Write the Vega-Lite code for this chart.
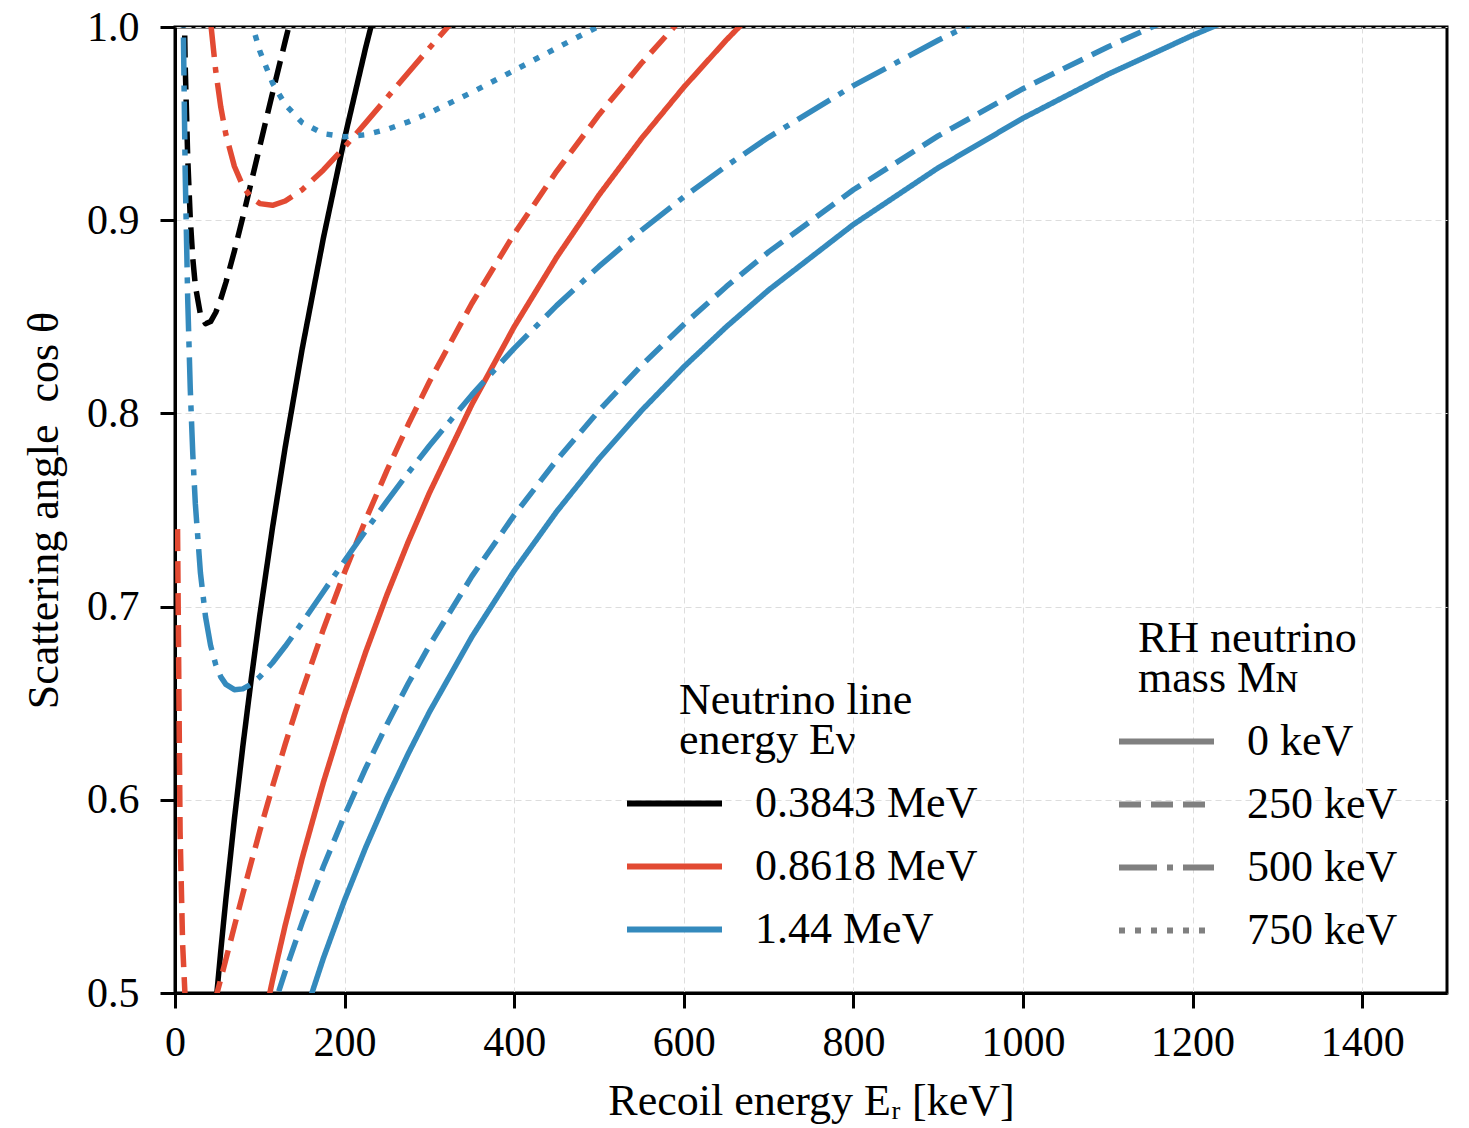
{
"$schema": "https://vega.github.io/schema/vega-lite/v6.json",
"width": 1272, "height": 966,
"autosize": {"type": "none"},
"padding": {"left": 175, "top": 27, "right": 22, "bottom": 135},
"background": "white",
"config": {
  "font": "Liberation Serif",
  "view": {"stroke": "black", "strokeWidth": 3},
  "axis": {"domainColor": "black", "domainWidth": 3, "tickColor": "black", "tickWidth": 3, "tickSize": 15,
    "labelFontSize": 42, "labelColor": "black", "titleFontSize": 44, "titleFontWeight": "normal", "titleColor": "black",
    "gridColor": "#dddddd", "gridDash": [6, 4], "gridWidth": 1, "labelFlush": false, "labelOverlap": false, "labelBound": false},
  "legend": {"titleFontSize": 44, "titleFontWeight": "normal", "titleColor": "black", "labelFontSize": 44, "labelColor": "black",
    "labelLimit": 500, "titleLimit": 600, "titleLineHeight": 40, "symbolType": "stroke", "symbolSize": 9025, "symbolStrokeWidth": 6,
    "clipHeight": 45, "rowPadding": 18, "titlePadding": 18, "labelOffset": 30, "titleAnchor": "start", "titleAlign": "left"}
},
"data": {"values": [
{"E":"0.3843 MeV","M":"0 keV","T":42,"c":0.46286},{"E":"0.3843 MeV","M":"0 keV","T":48,"c":0.49343},{"E":"0.3843 MeV","M":"0 keV","T":54,"c":0.5219},{"E":"0.3843 MeV","M":"0 keV","T":60,"c":0.5486},{"E":"0.3843 MeV","M":"0 keV","T":70,"c":0.58983},{"E":"0.3843 MeV","M":"0 keV","T":80,"c":0.62771},{"E":"0.3843 MeV","M":"0 keV","T":90,"c":0.66278},{"E":"0.3843 MeV","M":"0 keV","T":100,"c":0.69551},{"E":"0.3843 MeV","M":"0 keV","T":115,"c":0.74092},{"E":"0.3843 MeV","M":"0 keV","T":130,"c":0.78262},{"E":"0.3843 MeV","M":"0 keV","T":150,"c":0.83345},{"E":"0.3843 MeV","M":"0 keV","T":175,"c":0.89078},{"E":"0.3843 MeV","M":"0 keV","T":200,"c":0.9425},{"E":"0.3843 MeV","M":"0 keV","T":225,"c":0.98961},{"E":"0.3843 MeV","M":"0 keV","T":250,"c":1.03284},
{"E":"0.3843 MeV","M":"250 keV","T":9,"c":1.06183},{"E":"0.3843 MeV","M":"250 keV","T":12,"c":0.98099},{"E":"0.3843 MeV","M":"250 keV","T":15,"c":0.93219},{"E":"0.3843 MeV","M":"250 keV","T":18,"c":0.90083},{"E":"0.3843 MeV","M":"250 keV","T":21,"c":0.88003},{"E":"0.3843 MeV","M":"250 keV","T":24,"c":0.86613},{"E":"0.3843 MeV","M":"250 keV","T":30,"c":0.85115},{"E":"0.3843 MeV","M":"250 keV","T":36,"c":0.84641},{"E":"0.3843 MeV","M":"250 keV","T":42,"c":0.84753},{"E":"0.3843 MeV","M":"250 keV","T":48,"c":0.85224},{"E":"0.3843 MeV","M":"250 keV","T":54,"c":0.85925},{"E":"0.3843 MeV","M":"250 keV","T":60,"c":0.86775},{"E":"0.3843 MeV","M":"250 keV","T":70,"c":0.88395},{"E":"0.3843 MeV","M":"250 keV","T":80,"c":0.90158},{"E":"0.3843 MeV","M":"250 keV","T":90,"c":0.91982},{"E":"0.3843 MeV","M":"250 keV","T":100,"c":0.93827},{"E":"0.3843 MeV","M":"250 keV","T":115,"c":0.9658},{"E":"0.3843 MeV","M":"250 keV","T":130,"c":0.99275},{"E":"0.3843 MeV","M":"250 keV","T":134.3,"c":1.0003},
{"E":"0.8618 MeV","M":"0 keV","T":100,"c":0.47556},{"E":"0.8618 MeV","M":"0 keV","T":115,"c":0.5066},{"E":"0.8618 MeV","M":"0 keV","T":130,"c":0.53512},{"E":"0.8618 MeV","M":"0 keV","T":150,"c":0.56987},{"E":"0.8618 MeV","M":"0 keV","T":175,"c":0.60908},{"E":"0.8618 MeV","M":"0 keV","T":200,"c":0.64444},{"E":"0.8618 MeV","M":"0 keV","T":225,"c":0.67665},{"E":"0.8618 MeV","M":"0 keV","T":250,"c":0.7062},{"E":"0.8618 MeV","M":"0 keV","T":275,"c":0.73349},{"E":"0.8618 MeV","M":"0 keV","T":300,"c":0.75883},{"E":"0.8618 MeV","M":"0 keV","T":350,"c":0.80456},{"E":"0.8618 MeV","M":"0 keV","T":400,"c":0.84485},{"E":"0.8618 MeV","M":"0 keV","T":450,"c":0.88075},{"E":"0.8618 MeV","M":"0 keV","T":500,"c":0.91303},{"E":"0.8618 MeV","M":"0 keV","T":550,"c":0.94222},{"E":"0.8618 MeV","M":"0 keV","T":600,"c":0.96884},{"E":"0.8618 MeV","M":"0 keV","T":650,"c":0.9932},{"E":"0.8618 MeV","M":"0 keV","T":700,"c":1.01563},
{"E":"0.8618 MeV","M":"250 keV","T":3,"c":0.74011},{"E":"0.8618 MeV","M":"250 keV","T":6,"c":0.58342},{"E":"0.8618 MeV","M":"250 keV","T":9,"c":0.52527},{"E":"0.8618 MeV","M":"250 keV","T":12,"c":0.49715},{"E":"0.8618 MeV","M":"250 keV","T":15,"c":0.48233},{"E":"0.8618 MeV","M":"250 keV","T":18,"c":0.4746},{"E":"0.8618 MeV","M":"250 keV","T":21,"c":0.47106},{"E":"0.8618 MeV","M":"250 keV","T":24,"c":0.47017},{"E":"0.8618 MeV","M":"250 keV","T":30,"c":0.47312},{"E":"0.8618 MeV","M":"250 keV","T":36,"c":0.47965},{"E":"0.8618 MeV","M":"250 keV","T":42,"c":0.48802},{"E":"0.8618 MeV","M":"250 keV","T":48,"c":0.49739},{"E":"0.8618 MeV","M":"250 keV","T":54,"c":0.50729},{"E":"0.8618 MeV","M":"250 keV","T":60,"c":0.51743},{"E":"0.8618 MeV","M":"250 keV","T":70,"c":0.53446},{"E":"0.8618 MeV","M":"250 keV","T":80,"c":0.55133},{"E":"0.8618 MeV","M":"250 keV","T":90,"c":0.5678},{"E":"0.8618 MeV","M":"250 keV","T":100,"c":0.58382},{"E":"0.8618 MeV","M":"250 keV","T":115,"c":0.60688},{"E":"0.8618 MeV","M":"250 keV","T":130,"c":0.62882},{"E":"0.8618 MeV","M":"250 keV","T":150,"c":0.65636},{"E":"0.8618 MeV","M":"250 keV","T":175,"c":0.68831},{"E":"0.8618 MeV","M":"250 keV","T":200,"c":0.71779},{"E":"0.8618 MeV","M":"250 keV","T":225,"c":0.74511},{"E":"0.8618 MeV","M":"250 keV","T":250,"c":0.7705},{"E":"0.8618 MeV","M":"250 keV","T":275,"c":0.79421},{"E":"0.8618 MeV","M":"250 keV","T":300,"c":0.81641},{"E":"0.8618 MeV","M":"250 keV","T":350,"c":0.85689},{"E":"0.8618 MeV","M":"250 keV","T":400,"c":0.89293},{"E":"0.8618 MeV","M":"250 keV","T":450,"c":0.9253},{"E":"0.8618 MeV","M":"250 keV","T":500,"c":0.9546},{"E":"0.8618 MeV","M":"250 keV","T":550,"c":0.98122},{"E":"0.8618 MeV","M":"250 keV","T":600,"c":1.0056},
{"E":"0.8618 MeV","M":"500 keV","T":36,"c":1.03705},{"E":"0.8618 MeV","M":"500 keV","T":42,"c":1.00261},{"E":"0.8618 MeV","M":"500 keV","T":48,"c":0.9774},{"E":"0.8618 MeV","M":"500 keV","T":54,"c":0.95858},{"E":"0.8618 MeV","M":"500 keV","T":60,"c":0.94437},{"E":"0.8618 MeV","M":"500 keV","T":70,"c":0.92791},{"E":"0.8618 MeV","M":"500 keV","T":80,"c":0.9177},{"E":"0.8618 MeV","M":"500 keV","T":90,"c":0.91167},{"E":"0.8618 MeV","M":"500 keV","T":100,"c":0.90858},{"E":"0.8618 MeV","M":"500 keV","T":115,"c":0.90772},{"E":"0.8618 MeV","M":"500 keV","T":130,"c":0.90993},{"E":"0.8618 MeV","M":"500 keV","T":150,"c":0.9158},{"E":"0.8618 MeV","M":"500 keV","T":175,"c":0.92599},{"E":"0.8618 MeV","M":"500 keV","T":200,"c":0.93784},{"E":"0.8618 MeV","M":"500 keV","T":225,"c":0.95048},{"E":"0.8618 MeV","M":"500 keV","T":250,"c":0.96341},{"E":"0.8618 MeV","M":"500 keV","T":275,"c":0.97636},{"E":"0.8618 MeV","M":"500 keV","T":300,"c":0.98915},{"E":"0.8618 MeV","M":"500 keV","T":325,"c":1.00167},{"E":"0.8618 MeV","M":"500 keV","T":350,"c":1.01387},
{"E":"1.44 MeV","M":"0 keV","T":150,"c":0.4847},{"E":"1.44 MeV","M":"0 keV","T":175,"c":0.51804},{"E":"1.44 MeV","M":"0 keV","T":200,"c":0.54812},{"E":"1.44 MeV","M":"0 keV","T":225,"c":0.57551},{"E":"1.44 MeV","M":"0 keV","T":250,"c":0.60065},{"E":"1.44 MeV","M":"0 keV","T":275,"c":0.62386},{"E":"1.44 MeV","M":"0 keV","T":300,"c":0.64541},{"E":"1.44 MeV","M":"0 keV","T":350,"c":0.68431},{"E":"1.44 MeV","M":"0 keV","T":400,"c":0.71858},{"E":"1.44 MeV","M":"0 keV","T":450,"c":0.74912},{"E":"1.44 MeV","M":"0 keV","T":500,"c":0.77657},{"E":"1.44 MeV","M":"0 keV","T":550,"c":0.8014},{"E":"1.44 MeV","M":"0 keV","T":600,"c":0.82404},{"E":"1.44 MeV","M":"0 keV","T":650,"c":0.84476},{"E":"1.44 MeV","M":"0 keV","T":700,"c":0.86384},{"E":"1.44 MeV","M":"0 keV","T":800,"c":0.89777},{"E":"1.44 MeV","M":"0 keV","T":900,"c":0.92712},{"E":"1.44 MeV","M":"0 keV","T":1000,"c":0.95281},{"E":"1.44 MeV","M":"0 keV","T":1100,"c":0.97549},{"E":"1.44 MeV","M":"0 keV","T":1200,"c":0.99566},{"E":"1.44 MeV","M":"0 keV","T":1250,"c":1.00495},
{"E":"1.44 MeV","M":"250 keV","T":100,"c":0.46927},{"E":"1.44 MeV","M":"250 keV","T":115,"c":0.4909},{"E":"1.44 MeV","M":"250 keV","T":130,"c":0.51122},{"E":"1.44 MeV","M":"250 keV","T":150,"c":0.53646},{"E":"1.44 MeV","M":"250 keV","T":175,"c":0.56545},{"E":"1.44 MeV","M":"250 keV","T":200,"c":0.59202},{"E":"1.44 MeV","M":"250 keV","T":225,"c":0.61648},{"E":"1.44 MeV","M":"250 keV","T":250,"c":0.63913},{"E":"1.44 MeV","M":"250 keV","T":275,"c":0.6602},{"E":"1.44 MeV","M":"250 keV","T":300,"c":0.67987},{"E":"1.44 MeV","M":"250 keV","T":350,"c":0.71563},{"E":"1.44 MeV","M":"250 keV","T":400,"c":0.74735},{"E":"1.44 MeV","M":"250 keV","T":450,"c":0.77578},{"E":"1.44 MeV","M":"250 keV","T":500,"c":0.80145},{"E":"1.44 MeV","M":"250 keV","T":550,"c":0.82474},{"E":"1.44 MeV","M":"250 keV","T":600,"c":0.84604},{"E":"1.44 MeV","M":"250 keV","T":650,"c":0.86558},{"E":"1.44 MeV","M":"250 keV","T":700,"c":0.88361},{"E":"1.44 MeV","M":"250 keV","T":800,"c":0.91574},{"E":"1.44 MeV","M":"250 keV","T":900,"c":0.94362},{"E":"1.44 MeV","M":"250 keV","T":1000,"c":0.96807},{"E":"1.44 MeV","M":"250 keV","T":1100,"c":0.98969},{"E":"1.44 MeV","M":"250 keV","T":1150,"c":0.99958},{"E":"1.44 MeV","M":"250 keV","T":1190,"c":1.00713},
{"E":"1.44 MeV","M":"500 keV","T":9,"c":1.02773},{"E":"1.44 MeV","M":"500 keV","T":12,"c":0.92525},{"E":"1.44 MeV","M":"500 keV","T":15,"c":0.85896},{"E":"1.44 MeV","M":"500 keV","T":18,"c":0.8127},{"E":"1.44 MeV","M":"500 keV","T":21,"c":0.77879},{"E":"1.44 MeV","M":"500 keV","T":24,"c":0.7531},{"E":"1.44 MeV","M":"500 keV","T":30,"c":0.71743},{"E":"1.44 MeV","M":"500 keV","T":36,"c":0.69471},{"E":"1.44 MeV","M":"500 keV","T":42,"c":0.67981},{"E":"1.44 MeV","M":"500 keV","T":48,"c":0.66999},{"E":"1.44 MeV","M":"500 keV","T":54,"c":0.66364},{"E":"1.44 MeV","M":"500 keV","T":60,"c":0.65973},{"E":"1.44 MeV","M":"500 keV","T":70,"c":0.65699},{"E":"1.44 MeV","M":"500 keV","T":80,"c":0.65741},{"E":"1.44 MeV","M":"500 keV","T":90,"c":0.65984},{"E":"1.44 MeV","M":"500 keV","T":100,"c":0.66363},{"E":"1.44 MeV","M":"500 keV","T":115,"c":0.67094},{"E":"1.44 MeV","M":"500 keV","T":130,"c":0.67945},{"E":"1.44 MeV","M":"500 keV","T":150,"c":0.69173},{"E":"1.44 MeV","M":"500 keV","T":175,"c":0.7077},{"E":"1.44 MeV","M":"500 keV","T":200,"c":0.72371},{"E":"1.44 MeV","M":"500 keV","T":225,"c":0.73939},{"E":"1.44 MeV","M":"500 keV","T":250,"c":0.75459},{"E":"1.44 MeV","M":"500 keV","T":275,"c":0.76921},{"E":"1.44 MeV","M":"500 keV","T":300,"c":0.78325},{"E":"1.44 MeV","M":"500 keV","T":350,"c":0.80958},{"E":"1.44 MeV","M":"500 keV","T":400,"c":0.83368},{"E":"1.44 MeV","M":"500 keV","T":450,"c":0.85578},{"E":"1.44 MeV","M":"500 keV","T":500,"c":0.87608},{"E":"1.44 MeV","M":"500 keV","T":550,"c":0.89476},{"E":"1.44 MeV","M":"500 keV","T":600,"c":0.91203},{"E":"1.44 MeV","M":"500 keV","T":650,"c":0.92803},{"E":"1.44 MeV","M":"500 keV","T":700,"c":0.94291},{"E":"1.44 MeV","M":"500 keV","T":800,"c":0.96967},{"E":"1.44 MeV","M":"500 keV","T":900,"c":0.99312},{"E":"1.44 MeV","M":"500 keV","T":940,"c":1.00172},
{"E":"1.44 MeV","M":"750 keV","T":60,"c":1.08559},{"E":"1.44 MeV","M":"750 keV","T":70,"c":1.04945},{"E":"1.44 MeV","M":"750 keV","T":80,"c":1.02285},{"E":"1.44 MeV","M":"750 keV","T":90,"c":1.00282},{"E":"1.44 MeV","M":"750 keV","T":100,"c":0.98756},{"E":"1.44 MeV","M":"750 keV","T":115,"c":0.97101},{"E":"1.44 MeV","M":"750 keV","T":130,"c":0.95984},{"E":"1.44 MeV","M":"750 keV","T":150,"c":0.95052},{"E":"1.44 MeV","M":"750 keV","T":175,"c":0.94478},{"E":"1.44 MeV","M":"750 keV","T":200,"c":0.9432},{"E":"1.44 MeV","M":"750 keV","T":225,"c":0.94424},{"E":"1.44 MeV","M":"750 keV","T":250,"c":0.947},{"E":"1.44 MeV","M":"750 keV","T":275,"c":0.95089},{"E":"1.44 MeV","M":"750 keV","T":300,"c":0.95554},{"E":"1.44 MeV","M":"750 keV","T":350,"c":0.96616},{"E":"1.44 MeV","M":"750 keV","T":400,"c":0.97755},{"E":"1.44 MeV","M":"750 keV","T":450,"c":0.9891},{"E":"1.44 MeV","M":"750 keV","T":500,"c":1.00046},{"E":"1.44 MeV","M":"750 keV","T":550,"c":1.01145}
]},
"mark": {"type": "line", "clip": true, "strokeWidth": 5.5, "strokeCap": "butt", "strokeJoin": "round"},
"encoding": {
  "x": {"field": "T", "type": "quantitative", "scale": {"domain": [0, 1500], "nice": false, "zero": false},
    "axis": {"values": [0, 200, 400, 600, 800, 1000, 1200, 1400], "format": "d", "title": "Recoil energy Eᵣ [keV]", "labelPadding": 14, "titlePadding": 16}},
  "y": {"field": "c", "type": "quantitative", "scale": {"domain": [0.5, 1.0], "nice": false, "zero": false},
    "axis": {"values": [0.5, 0.6, 0.7, 0.8, 0.9, 1.0], "format": ".1f", "title": "Scattering angle\u00a0 cos θ", "labelPadding": 21, "titlePadding": 20}},
  "color": {"field": "E", "type": "nominal",
    "scale": {"domain": ["0.3843 MeV", "0.8618 MeV", "1.44 MeV"], "range": ["#000000", "#E24A33", "#348ABD"]},
    "legend": {"orient": "none", "legendX": 449, "legendY": 652, "title": ["\u200b\u00a0\u00a0\u00a0\u00a0\u00a0Neutrino line", "\u200b\u00a0\u00a0\u00a0\u00a0\u00a0energy Eν"], "symbolDash": [1, 0]}},
  "strokeDash": {"field": "M", "type": "nominal",
    "scale": {"domain": ["0 keV", "250 keV", "500 keV", "750 keV"], "range": [[1, 0], [22, 10], [38, 10, 6, 10], [6, 10]]},
    "legend": {"orient": "none", "legendX": 941, "legendY": 590, "title": ["\u200b\u00a0\u00a0RH neutrino", "\u200b\u00a0\u00a0mass Mɴ"], "symbolStrokeColor": "#808080"}}
}
}
